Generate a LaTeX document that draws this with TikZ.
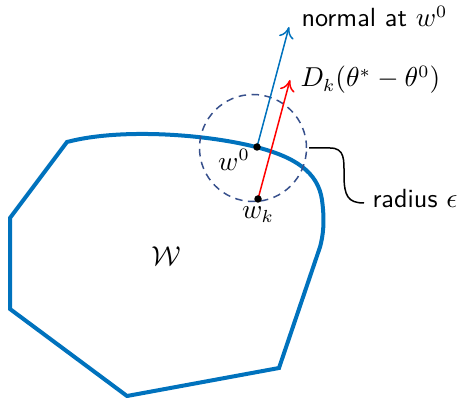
\documentclass[tikz,border=0pt]{standalone}
\usetikzlibrary{arrows.meta}
\definecolor{wblue}{RGB}{0,114,189}
\definecolor{cblue}{RGB}{55,80,140}
\begin{document}
\begin{tikzpicture}[x=0.4pt,y=-0.4pt,
  region/.style={draw=wblue,line width=1.6pt,line join=miter},
  ball/.style={draw=cblue,line width=0.6pt,dash pattern=on 3pt off 2.2pt},
  vec/.style={line width=0.6pt,-{To[length=4.5pt,width=6pt]}},
  dot/.style={circle,fill=black,inner sep=0pt,minimum size=3pt},
  lab/.style={font=\fontsize{10.5}{12}\selectfont}]
\useasboundingbox (0,0) rectangle (459,398);
\draw[region] (67,142) .. controls (120,128) and (205,134) .. (256,147)
  .. controls (295,157) and (318,172) .. (322,200)
  .. controls (325,222) and (323,236) .. (320,247)
  -- (279,368) -- (127,396) -- (10,309) -- (10,218) -- cycle;
\coordinate (cc) at (253,148);
\draw[ball] (cc) circle[radius=53.5*0.4pt];
\coordinate (w0p) at (257,147);
\coordinate (wkp) at (258,199);
\coordinate (ntip) at (289,27);
\coordinate (dtip) at (290,80);
\draw[vec,wblue] (w0p) -- (ntip);
\draw[vec,red] (wkp) -- (dtip);
\node[dot] (w0) at (w0p) {};
\node[dot] (wk) at (wkp) {};
\node[lab,anchor=base west,inner sep=0pt] (nlab) at (301,27) {\textsf{normal at} $w^0$};
\node[lab,anchor=base west,inner sep=0pt] (dlab) at (300,87) {$D_k(\theta^*-\theta^0)$};
\node[lab] (w0lab) at (234,160) {$w^0$};
\node[lab] (wklab) at (258,215) {$w_k$};
\node[lab] (Wlab) at (166,256) {$\mathcal{W}$};
\node[lab,anchor=base west,inner sep=0pt] (rlab) at (372,208) {\textsf{radius} $\epsilon$};
\coordinate (bstart) at (309,148);
\draw[line width=0.6pt] (bstart) -- (330,148) .. controls (345,148) and (344,160) .. (344,175)
  .. controls (344,196) and (348,203) .. (364,203);
\end{tikzpicture}
\end{document}
